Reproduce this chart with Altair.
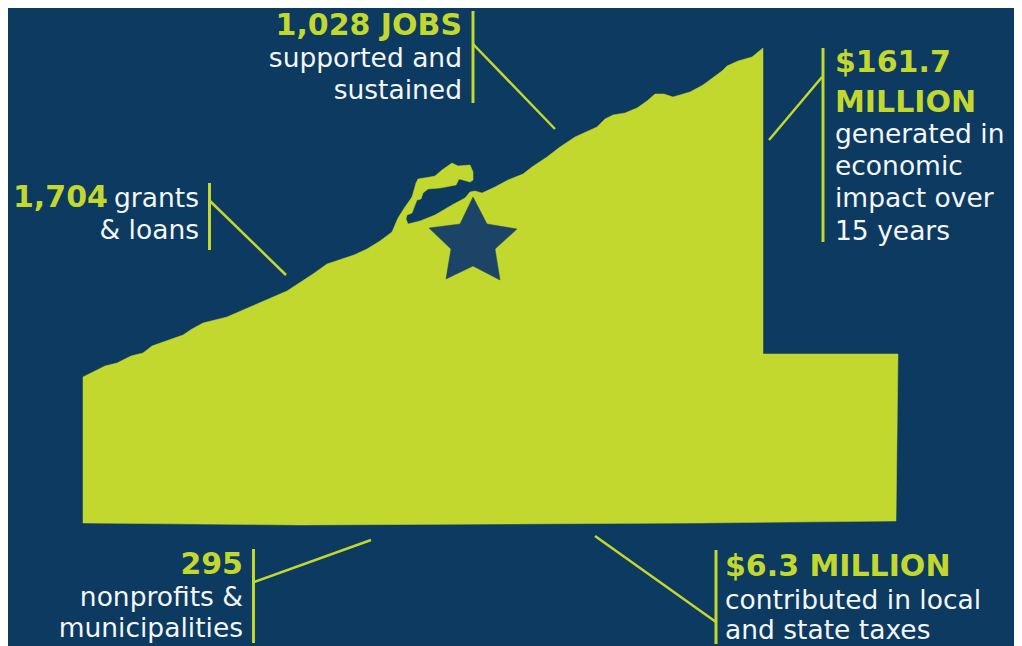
import altair as alt
import pandas as pd

BG = "#0c3a60"
LIME = "#c3d82f"
STAR = "#1c4466"
WHITE = "#f4f6f8"
FONT = "DejaVu Sans"

# outline of the county (top coast incl. peninsula, then right step and bottom)
land_x = [83,105,117,131,143,152,166,183,192,203,227,250,287,313,327,354,367,380,392,398,405,412,416,418,430,435,442,452,458,470,473,473,470,463,459,456,440,428,423,421,417,415,412,407,406,408,420,435,452,465,470,475,482,495,508,523,532,547,560,575,597,605,613,625,637,647,655,664,673,690,703,722,727,738,752,763,763,898,896,700,300,83]
land_y = [377,366,363,356,353,346,341,335,329,323,317,307,291,274,264,255,249,241,232,218,207,197,183,179,177,176,170,163,166,165,172,180,182,180,179,185,188,189,193,199,200,205,213,215,219,224,221,215,205,198,192,191,193,187,180,174,167,157,147,137,127,119,115,113,108,101,94,94,97,92,85,71,66,61,57,48,354,354,521,523,525,523]

star_x = [473,487,517,495,500,473,446,451,429,460]
star_y = [197,224,229,249,280,266,279,249,228,224]

# leader lines: x, y, x2, y2
bars_x = [473,209.5,823,253.5,716]
bars_y = [11,183,48,549,550]
bars_y2 = [103,250,242,643,644]
diag_x = [473,210,822,254,716]
diag_y = [44,201,77,582,622]
diag_x2 = [555,286,769,371,595]
diag_y2 = [129,275,140,540,536]

bold_right = [("1,028 JOBS",462,35),("295",243,574)]
bold_left = [("1,704",13,207),("$161.7",835,72),("MILLION",835,112),("$6.3 MILLION",725,576)]
norm_right = [("supported and",462,67),("sustained",462,99),("grants",199,207),("& loans",199,239),("nonprofits &",243,606),("municipalities",243,637)]
norm_left = [("generated in",835,143),("economic",835,175),("impact over",835,207),("15 years",835,240),("contributed in local",725,609),("and state taxes",725,639)]

X = alt.Scale(domain=[8,1014], nice=False, zero=False)
Y = alt.Scale(domain=[646,8], nice=False, zero=False)
xq = lambda f: alt.X(f, type="quantitative", scale=X, axis=None)
yq = lambda f: alt.Y(f, type="quantitative", scale=Y, axis=None)

def poly(xs, ys, color):
    df = pd.DataFrame({"x": xs, "y": ys, "o": range(len(xs))})
    return alt.Chart(df).mark_line(fill=color, stroke=color, strokeWidth=0.5, interpolate="linear-closed").encode(
        x=xq("x"), y=yq("y"), order=alt.Order("o:Q"))

def rules(xs, ys, x2s, y2s, w):
    df = pd.DataFrame({"x": xs, "y": ys, "x2": x2s, "y2": y2s})
    return alt.Chart(df).mark_rule(color=LIME, strokeWidth=w).encode(
        x=xq("x"), y=yq("y"), x2="x2:Q", y2="y2:Q")

def texts(rows, align, color, size, weight):
    df = pd.DataFrame(rows, columns=["t", "x", "y"])
    return alt.Chart(df).mark_text(align=align, baseline="alphabetic", color=color, fontSize=size,
                                   fontWeight=weight, font=FONT).encode(
        x=xq("x"), y=yq("y"), text="t:N")

chart = alt.layer(
    poly(land_x, land_y, LIME),
    poly(star_x, star_y, STAR),
    rules(bars_x, bars_y, bars_x, bars_y2, 3),
    rules(diag_x, diag_y, diag_x2, diag_y2, 2.5),
    texts(bold_right, "right", LIME, 30, 700),
    texts(bold_left, "left", LIME, 30, 700),
    texts(norm_right, "right", WHITE, 26.5, 400),
    texts(norm_left, "left", WHITE, 26.5, 400),
).properties(width=1006, height=638, background=BG, padding=0).configure_view(stroke=None)

chart.save("out.html", embed_options={"renderer": "svg", "actions": False})
